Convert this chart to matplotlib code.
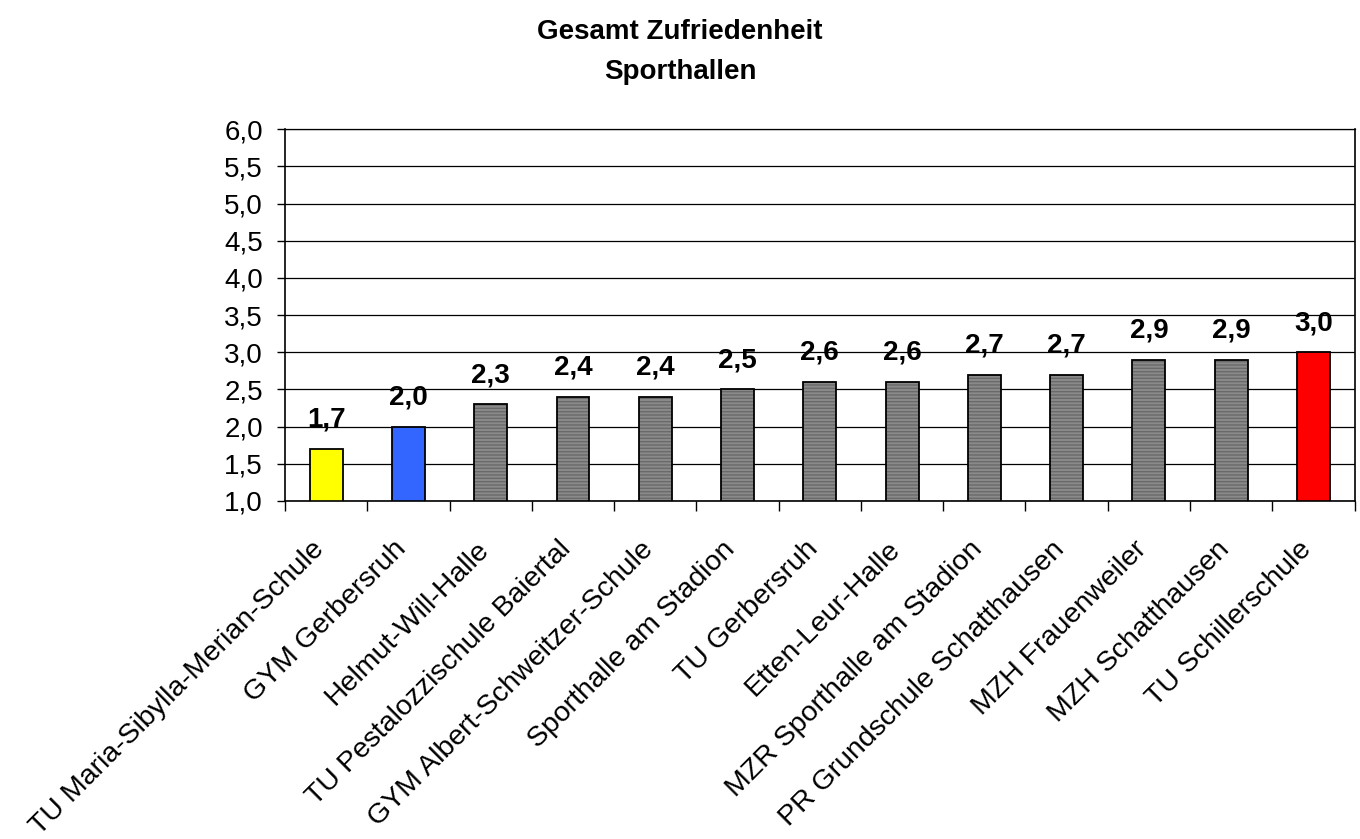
import matplotlib
matplotlib.use("Agg")
import matplotlib.pyplot as plt
import matplotlib.transforms as mtrans
import numpy as np

plt.rcParams['font.family'] = ['Liberation Sans', 'DejaVu Sans']

halls = ['TU Maria-Sibylla-Merian-Schule', 'GYM Gerbersruh', 'Helmut-Will-Halle',
         'TU Pestalozzischule Baiertal', 'GYM Albert-Schweitzer-Schule',
         'Sporthalle am Stadion', 'TU Gerbersruh', 'Etten-Leur-Halle',
         'MZR Sporthalle am Stadion', 'PR Grundschule Schatthausen',
         'MZH Frauenweiler', 'MZH Schatthausen', 'TU Schillerschule']
scores = [1.7, 2.0, 2.3, 2.4, 2.4, 2.5, 2.6, 2.6, 2.7, 2.7, 2.9, 2.9, 3.0]
colors = ['#ffff00', '#3366ff'] + ['#8a8a8a'] * 10 + ['#ff0000']

fig = plt.figure(figsize=(13.6, 8.39), dpi=100)
ax = fig.add_axes([0.2096, 0.403, 0.7864, 0.443])

x = np.arange(len(halls))
width = 0.4
# grey bars get fine horizontal stripes
for i in range(len(halls)):
    hatch = '-----' if i not in (0, 1, len(halls) - 1) else None
    ax.bar(x[i], scores[i], width, color=colors[i], hatch=hatch,
           edgecolor='#6a6a6a' if hatch else colors[i], linewidth=0, zorder=2)
ax.bar(x, scores, width, fill=False, edgecolor='black', linewidth=1.3, zorder=3)

for xi, v in zip(x, scores):
    ax.annotate(('%.1f' % v).replace('.', ','), (xi, v), xytext=(0, 21),
                textcoords='offset points', ha='center', va='center',
                fontsize=20, fontweight='bold')

ax.set_xlim(-0.5, len(halls) - 0.5)
ax.set_ylim(1, 6)
yt = np.arange(1, 6.01, 0.5)
ax.set_yticks(yt)
ax.set_yticklabels([('%.1f' % t).replace('.', ',') for t in yt], fontsize=20)
ax.yaxis.grid(True, color='black', linewidth=0.9)
ax.set_axisbelow(True)
ax.tick_params(axis='y', direction='out', length=6, width=1, pad=10)

ax.set_xticks(x)
ax.set_xticklabels(halls, rotation=45, ha='right', va='center',
                   rotation_mode='anchor', fontsize=20.5)
ax.tick_params(axis='x', length=0, pad=32)
shift = mtrans.ScaledTranslation(-6 / 100, 0, fig.dpi_scale_trans)
for lbl in ax.get_xticklabels():
    lbl.set_transform(lbl.get_transform() + shift)
ax.set_xticks(np.arange(-0.5, len(halls), 1), minor=True)
ax.tick_params(axis='x', which='minor', direction='out', length=7, width=1)

for s in ax.spines.values():
    s.set_linewidth(1.2)
ax.spines['top'].set_linewidth(0.9)

fig.text(0.5, 0.962, 'Gesamt Zufriedenheit', ha='center', va='center',
         fontsize=20, fontweight='bold')
fig.text(0.5, 0.914, 'Sporthallen', ha='center', va='center',
         fontsize=20, fontweight='bold')

fig.savefig('out.png', dpi=100)
